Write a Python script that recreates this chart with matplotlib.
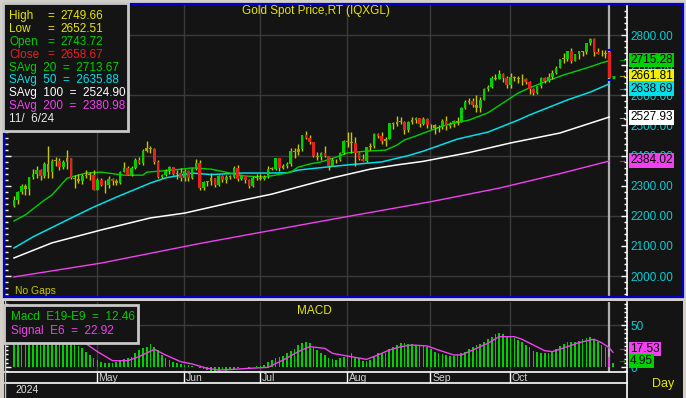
import numpy as np
import pandas as pd
import matplotlib
matplotlib.use("Agg")
import matplotlib.pyplot as plt
from matplotlib.patches import Rectangle
from matplotlib.lines import Line2D
from matplotlib.ticker import FuncFormatter

plt.rcParams['font.family'] = ['Liberation Sans', 'DejaVu Sans']

W, H = 686, 398

# ---- data ----
dates = pd.bdate_range("2024-04-01", "2024-11-06")

opens = [
    2232, 2251, 2280, 2300, 2290, 2329, 2339, 2352, 2333, 2373, 2344, 2383, 2382, 2361, 2379, 2391, 2327, 2322, 2316, 2332, 2337, 2335,
    2286, 2320, 2303, 2301, 2323, 2314, 2309, 2346, 2360, 2336, 2358, 2386, 2377, 2415, 2425, 2421, 2379, 2329, 2334, 2350, 2361, 2338, 2343,
    2327, 2350, 2327, 2355, 2376, 2294, 2311, 2316, 2324, 2303, 2332, 2319, 2329, 2328, 2360, 2321, 2334, 2319, 2298, 2327,
    2326, 2323, 2330, 2356, 2356, 2391, 2359, 2364, 2371, 2415, 2411, 2422, 2468, 2459, 2445, 2400, 2396, 2409, 2398, 2364, 2386, 2384, 2410,
    2447, 2446, 2443, 2409, 2390, 2382, 2427, 2431, 2472, 2465, 2447, 2456, 2508, 2504, 2513, 2512, 2484, 2512, 2518, 2524, 2504, 2521,
    2503, 2500, 2493, 2495, 2516, 2497, 2506, 2516, 2512, 2558, 2578, 2582, 2569, 2559, 2586, 2621, 2628, 2657, 2656, 2671, 2658,
    2634, 2662, 2658, 2656, 2653, 2644, 2622, 2608, 2630, 2657, 2649, 2662, 2674, 2692, 2721, 2720, 2748, 2715, 2736, 2747, 2743, 2774, 2788,
    2743, 2736, 2736, 2743.72,
]
highs = [
    2266, 2281, 2305, 2305, 2330, 2354, 2365, 2354, 2378, 2431, 2390, 2395, 2393, 2385, 2417, 2392, 2335, 2338, 2338, 2353, 2346, 2353,
    2326, 2327, 2319, 2331, 2326, 2323, 2350, 2378, 2364, 2364, 2392, 2397, 2422, 2450, 2432, 2425, 2385, 2340, 2354, 2364, 2363, 2352, 2360,
    2354, 2352, 2358, 2388, 2387, 2314, 2317, 2342, 2327, 2335, 2336, 2334, 2335, 2366, 2368, 2336, 2336, 2322, 2331, 2339,
    2339, 2335, 2365, 2363, 2392, 2393, 2372, 2379, 2424, 2425, 2440, 2469, 2483, 2470, 2446, 2411, 2412, 2431, 2400, 2391, 2390, 2413, 2451,
    2477, 2477, 2461, 2413, 2406, 2430, 2443, 2474, 2476, 2479, 2463, 2509, 2510, 2531, 2527, 2515, 2514, 2528, 2527, 2525, 2528, 2524,
    2505, 2504, 2500, 2523, 2530, 2511, 2518, 2529, 2560, 2586, 2590, 2590, 2600, 2595, 2625, 2633, 2664, 2670, 2685, 2674, 2663,
    2673, 2666, 2666, 2670, 2657, 2648, 2624, 2632, 2661, 2660, 2674, 2685, 2697, 2722, 2740, 2749, 2758, 2738, 2749, 2749, 2775, 2790, 2790,
    2758, 2750, 2750, 2749.66,
]
lows = [
    2228, 2240, 2272, 2268, 2268, 2321, 2327, 2319, 2326, 2326, 2324, 2366, 2353, 2355, 2354, 2322, 2291, 2310, 2305, 2327, 2320, 2285,
    2285, 2298, 2277, 2291, 2303, 2302, 2306, 2345, 2334, 2331, 2354, 2372, 2370, 2413, 2407, 2373, 2326, 2325, 2331, 2340, 2334, 2322, 2314,
    2314, 2315, 2323, 2352, 2287, 2286, 2298, 2301, 2296, 2298, 2311, 2310, 2322, 2326, 2316, 2318, 2308, 2293, 2295, 2318,
    2319, 2318, 2327, 2352, 2351, 2350, 2354, 2360, 2367, 2392, 2401, 2415, 2455, 2439, 2394, 2384, 2385, 2395, 2353, 2364, 2375, 2382, 2405,
    2430, 2410, 2364, 2386, 2382, 2380, 2418, 2425, 2459, 2440, 2432, 2454, 2490, 2497, 2505, 2471, 2478, 2506, 2507, 2495, 2503, 2492,
    2490, 2472, 2480, 2490, 2485, 2493, 2494, 2500, 2510, 2554, 2571, 2562, 2546, 2546, 2584, 2615, 2624, 2650, 2654, 2643, 2625,
    2625, 2649, 2641, 2635, 2637, 2604, 2602, 2605, 2626, 2640, 2645, 2655, 2672, 2690, 2708, 2714, 2708, 2715, 2720, 2730, 2737, 2769, 2731,
    2736, 2732, 2725, 2652.51,
]
closes = [
    2251, 2280, 2300, 2290, 2329, 2339, 2352, 2333, 2373, 2344, 2383, 2382, 2361, 2379, 2391, 2327, 2322, 2316, 2332, 2337, 2335, 2286,
    2320, 2303, 2301, 2323, 2314, 2309, 2346, 2360, 2336, 2358, 2386, 2377, 2415, 2425, 2421, 2379, 2329, 2334, 2350, 2361, 2338, 2343, 2327,
    2350, 2327, 2355, 2376, 2294, 2311, 2316, 2324, 2303, 2332, 2319, 2329, 2328, 2360, 2321, 2334, 2319, 2298, 2327, 2326,
    2323, 2330, 2356, 2356, 2391, 2359, 2364, 2371, 2415, 2411, 2422, 2468, 2459, 2445, 2400, 2396, 2409, 2398, 2364, 2386, 2384, 2410, 2447,
    2446, 2443, 2409, 2390, 2382, 2427, 2431, 2472, 2465, 2447, 2456, 2508, 2504, 2513, 2512, 2484, 2512, 2518, 2524, 2504, 2521, 2503,
    2500, 2493, 2495, 2516, 2497, 2506, 2516, 2512, 2558, 2578, 2582, 2569, 2559, 2586, 2621, 2628, 2657, 2656, 2671, 2658, 2634,
    2662, 2658, 2656, 2653, 2644, 2622, 2608, 2630, 2657, 2649, 2662, 2674, 2692, 2721, 2720, 2748, 2715, 2736, 2747, 2743, 2774, 2788, 2743,
    2736, 2736, 2742, 2658.67,
]

# moving averages, read at bar positions
ma20_at = [0, 3, 8, 10, 14, 19, 23, 29, 34, 35, 42, 47, 52, 57, 61, 66, 69, 73, 75, 78, 81, 85, 88, 93, 98,
           101, 103, 106, 108, 114, 120, 125, 129, 133, 136, 140, 145, 151, 155, 157]
ma20 = [2183, 2203, 2252, 2269, 2325, 2342, 2345, 2335, 2335, 2345, 2352, 2359, 2355, 2342, 2332, 2329, 2335, 2345,
        2362, 2372, 2379, 2395, 2409, 2415, 2418, 2435, 2452, 2465, 2475, 2502, 2518, 2542, 2575, 2608, 2625, 2645,
        2668, 2691, 2708, 2715]
ma50_at = [0, 5, 14, 21, 27, 36, 40, 47, 52, 60, 67, 72, 75, 81, 88, 97, 104, 108, 117, 125, 133, 136, 140, 146, 152, 157]
ma50 = [2093, 2130, 2186, 2229, 2262, 2309, 2326, 2342, 2337, 2342, 2342, 2343, 2352, 2360, 2369, 2379, 2400, 2415,
        2455, 2478, 2518, 2535, 2555, 2585, 2611, 2638]
ma100_at = [0, 10, 23, 36, 45, 58, 68, 75, 84, 94, 101, 108, 120, 131, 144, 157]
ma100 = [2060, 2110, 2153, 2193, 2209, 2246, 2272, 2296, 2326, 2355, 2369, 2381, 2410, 2442, 2475, 2528]
ma200_at = [0, 23, 49, 75, 89, 110, 128, 144, 157]
ma200 = [1997, 2043, 2108, 2168, 2200, 2247, 2292, 2340, 2382]

# MACD (bars) and signal line
macd = [
    44, 46, 49, 51, 53, 55, 56, 57, 57, 58, 58, 56, 54, 48, 45, 38, 32, 25, 22.2, 18.3, 14.3, 10.3,
    8.3, 6.3, 5.2, 4.4, 5.2, 6.3, 7.1, 9.1, 10.3, 12.3, 16.3, 20.2, 22.2, 24.2, 27.4, 24.2, 20.2, 14.3, 10.3, 8.3, 6.3, 5.2, 3.6,
    2.4, 2.4, 1.2, 0.4, -1.6, -2.8, -3.6, -4.8, -5.6, -4.8, -3.6, -4.4, -3.6, -2.8, -1.6, -0.4, 0.4, -1.6, -0.4, 1.2,
    1.2, 2.4, 6.3, 8.3, 10.3, 12.3, 13.1, 16.3, 19.4, 21, 26.2, 29, 30.2, 28.2, 23.4, 20.2, 16.3, 14.3, 10.3, 9.1, 8.3, 10.3, 12.3,
    14.3, 16.3, 12.3, 10.3, 7.5, 7.5, 8.3, 12.3, 16.3, 17.1, 17.1, 21, 24.2, 26.2, 29, 28.2, 27.4, 27, 26.2, 26.2, 25, 23.4,
    21, 18.3, 17.1, 15.5, 14.3, 13.1, 13.5, 14.3, 16.3, 18.3, 21, 24.2, 26.2, 27.4, 30.2, 33, 36.1, 38.9, 40.9, 39.3, 36.1,
    35.3, 34.1, 32.1, 30.2, 26.2, 23.4, 19.4, 18.3, 17.1, 17.1, 16.3, 18.3, 21, 25, 27.4, 30.2, 30.2, 30.2, 31.4, 33, 34.1, 36.1, 32.1,
    30.2, 26.2, 23.4, 12.46,
]
macd_next = 4.95
sig_at = [0, 5, 10, 14, 17, 19, 22, 26, 30, 33, 37, 40, 44, 47, 51, 54, 58, 62, 67, 71, 75, 78, 82, 84, 88, 93, 96, 99,
          102, 105, 109, 112, 116, 118, 121, 125, 128, 132, 134, 137, 140, 142, 146, 149, 153, 155, 157, 158]
sig = [40, 50, 55, 48, 36, 27.8, 18.3, 7.5, 7.5, 12.3, 21, 14.3, 6.3, 3.6, -1.6, -3.6, -2.8, -1.6, -0.4, 8.3, 18.3,
       24.2, 22.2, 16.3, 13, 9.1, 14.3, 20.2, 24.2, 26.2, 25, 20.2, 14.3, 14.3, 20.2, 28.2, 36.1, 36.1, 33, 26.2, 19.4,
       18.3, 24.2, 29, 33, 29, 22.92, 17.53]

legend_top = [("High", "2749.66"), ("Low", "2652.51"), ("Open", "2743.72"), ("Close", "2658.67")]
legend_avg = ["SAvg  20  =  2713.67", "SAvg  50  =  2635.88", "SAvg  100  =  2524.90", "SAvg  200  =  2380.98"]
legend_date = "11/  6/24"
price_tags = [("2715.28", 2715.28), ("2661.81", 2661.81), ("2638.69", 2638.69), ("2527.93", 2527.93), ("2384.02", 2384.02)]
macd_tags = [("17.53", 17.53), ("4.95", 4.95)]

# ---- colours ----
BG = "#141414"
GRID = "#3a3a3a"
YEL = "#e6e600"
GRN = "#00d000"
RED = "#e82020"
CYN = "#00e0e8"
WHT = "#ffffff"
MAG = "#f040f0"
OLV = "#a8a000"
WICK = "#c8c800"
AXL = "#00d0d8"


def box(x0, y0, x1, y1):
    return [x0 / W, 1 - y1 / H, (x1 - x0) / W, (y1 - y0) / H]


def t(x, y, s, **kw):
    kw.setdefault("va", "center")
    kw.setdefault("ha", "left")
    kw.setdefault("fontsize", 8.5)
    kw.setdefault("zorder", 6)
    return fig.text(x / W, 1 - y / H, s, **kw)


def fline(x0, y0, x1, y1, **kw):
    fig.add_artist(Line2D([x0 / W, x1 / W], [1 - y0 / H, 1 - y1 / H], transform=fig.transFigure, **kw))


def frect(x0, y0, x1, y1, **kw):
    fig.add_artist(Rectangle((x0 / W, 1 - y1 / H), (x1 - x0) / W, (y1 - y0) / H, transform=fig.transFigure, **kw))


fig = plt.figure(figsize=(W / 100, H / 100), dpi=100, facecolor="#d4d0c8")
frect(4, 4, 683, 297, fc=BG, ec="none", zorder=-2)
frect(4, 301, 683, 398, fc=BG, ec="none", zorder=-2)

n = len(closes)
idx = np.arange(n)
o = np.array(opens)
hi = np.array(highs)
lo = np.array(lows)
c = np.array(closes)
# month boundaries shown on the chart (the last, partial month gets no mark)
month_start = [i for i in range(1, n) if dates[i].month != dates[i - 1].month and dates[i].month != 11]
month_names = [dates[i].strftime("%b") for i in month_start]
XL = (-2.37, 161.7)

# ---- price panel ----
ax = fig.add_axes(box(5, 5, 627, 296))
ax.set_facecolor(BG)
ax.set_xlim(*XL)
ax.set_ylim(1933.6, 2900.3)
for v in range(2000, 2801, 200):
    ax.axhline(v, color=GRID, lw=1, zorder=0)
for m in month_start:
    ax.axvline(m - 0.2, color=GRID, lw=1, zorder=0)
ax.axvline(n - 1, color="#b0b0b0", lw=1.6, zorder=1)

ax.plot(ma200_at, ma200, color=MAG, lw=1, zorder=2)
ax.plot(ma100_at, ma100, color=WHT, lw=1.1, zorder=2)
ax.plot(ma50_at, ma50, color=CYN, lw=1.1, zorder=2)
ax.plot(ma20_at, ma20, color=GRN, lw=1, zorder=2)

body = np.abs(c - o)
cols = []
for i in range(n):
    if body[i] < 0.3 * (hi[i] - lo[i]):
        cols.append(OLV)
    elif c[i] > o[i]:
        cols.append(GRN)
    else:
        cols.append(RED)
cols[-1] = RED
ax.vlines(idx, lo, hi, color=WICK, lw=1, zorder=3)
ax.bar(idx, np.maximum(body, 3), bottom=np.minimum(o, c), width=0.7, color=cols, lw=0, zorder=4)
ax.hlines([hi[-1], lo[-1]], n - 1.6, n - 0.4, color="#0000ff", lw=1.5, zorder=5)
ax.hlines(price_tags[1][1], n - 0.3, n + 0.6, color=GRN, lw=2, zorder=5)

ax.set_yticks(np.arange(2000, 2801, 100))
ax.set_yticks(np.arange(1940, 2900, 20), minor=True)
ax.yaxis.set_major_formatter(FuncFormatter(lambda v, p: f"{v:.2f}"))
ax.tick_params(axis="y", which="both", direction="in", left=True, right=True, labelleft=False,
               labelright=True, colors=WHT, labelcolor=AXL, labelsize=8.5, pad=2.5)
ax.tick_params(axis="y", which="major", length=4, width=1)
ax.tick_params(axis="y", which="minor", length=2.5, width=1)
ax.tick_params(axis="x", bottom=False, labelbottom=False)
for s in ax.spines.values():
    s.set_visible(False)
ax.spines["right"].set_visible(True)
ax.spines["right"].set_color(WHT)
ax.spines["right"].set_linewidth(1.2)

# ---- MACD panel ----
axm = fig.add_axes(box(5, 302, 627, 372))
axm.set_facecolor(BG)
axm.set_xlim(*XL)
axm.set_ylim(-5.95, 77.4)
axm.axhline(50, color=GRID, lw=1, zorder=0)
for m in month_start:
    axm.axvline(m - 0.2, color=GRID, lw=1, zorder=0)
axm.axvline(n - 1, color="#b0b0b0", lw=1.6, zorder=1)
mcols = [GRN] * (n - 1) + [MAG]
axm.bar(idx, macd, width=0.45, color=mcols, lw=0, zorder=2)
axm.bar([n], [macd_next], width=0.45, color=GRN, lw=0, zorder=2)
axm.plot(sig_at, sig, color=MAG, lw=1, zorder=3)
axm.set_yticks([0, 50])
axm.set_yticks(np.arange(-5, 77, 5), minor=True)
axm.tick_params(axis="y", which="both", direction="in", left=True, right=True, labelleft=False,
                labelright=True, colors=WHT, labelcolor=AXL, labelsize=8.5, pad=2.5)
axm.tick_params(axis="y", which="major", length=4, width=1)
axm.tick_params(axis="y", which="minor", length=2.5, width=1)
axm.tick_params(axis="x", bottom=False, labelbottom=False)
for s in axm.spines.values():
    s.set_visible(False)

# ---- date strip ----
axd = fig.add_axes(box(5, 372, 627, 383))
axd.set_facecolor(BG)
axd.set_xlim(*XL)
axd.set_ylim(0, 1)
axd.axis("off")
axd.vlines([m - 0.2 for m in month_start], 0, 1, color=WHT, lw=1)
for m, name in zip(month_start, month_names):
    axd.text(m + 0.3, 0.45, name, color="#d0d0d0", fontsize=7.5, va="center", ha="left")

fline(5, 372, 627, 372, color=WHT, lw=1.2, zorder=5)
fline(5, 383, 627, 383, color=WHT, lw=1.2, zorder=5)
fline(627, 302, 627, 398, color=WHT, lw=1.2, zorder=5)
fline(5, 301, 5, 398, color="#c8c8c8", lw=1, zorder=5)
t(15, 390, "2024", color="#e0e0e0", fontsize=7.5)
t(652, 384, "Day", color=YEL, fontsize=9)

# blue frame round the price panel
frect(4, 4, 683, 297, fc="none", ec="#0000c8", lw=1.6, zorder=4)

# ---- texts ----
t(316, 11, "Gold Spot Price,RT (IQXGL)", color=YEL, ha="center")
t(15, 291, "No Gaps", color="#c8c800", fontsize=7.5)
t(314, 311, "MACD", color=YEL, ha="center")

frect(3, 3, 128, 131, fc=BG, ec="#c8c8c8", lw=2, zorder=5)
row_cols = [YEL, YEL, GRN, RED]
y0 = 15.7
for k, (lab, val) in enumerate(legend_top):
    y = y0 + 12.95 * k
    t(9, y, lab, color=row_cols[k])
    t(47, y, "=", color=row_cols[k])
    t(60, y, val, color=row_cols[k])
for k, s in enumerate(legend_avg):
    t(9, y0 + 12.95 * (k + 4), s, color=[GRN, CYN, WHT, MAG][k])
t(9, y0 + 12.95 * 8, legend_date, color="#e8e8e8")

frect(4, 305, 138, 343, fc=BG, ec="#c8c8c8", lw=2, zorder=5)
t(11, 317, "Macd  E19-E9  =  12.46", color=GRN)
t(11, 331, "Signal  E6  =  22.92", color=MAG)

# right-hand value tags
tag_cols = [GRN, "#f0f000", CYN, WHT, MAG]
tag_y = [60, 76, 88.5, 117.5, 160.5]
for (s, v), col, y in zip(price_tags, tag_cols, tag_y):
    t(617, y, "→", color=col, fontsize=6.5)
    t(630, y, s, color="black", bbox=dict(boxstyle="square,pad=0.12", fc=col, ec="none"))
for (s, v), col, y in zip(macd_tags, [MAG, GRN], [349, 361]):
    t(617, y, "→", color=col, fontsize=6.5)
    t(630, y, s, color="black", bbox=dict(boxstyle="square,pad=0.12", fc=col, ec="none"))

fig.savefig("out.png", dpi=100, facecolor=fig.get_facecolor())
